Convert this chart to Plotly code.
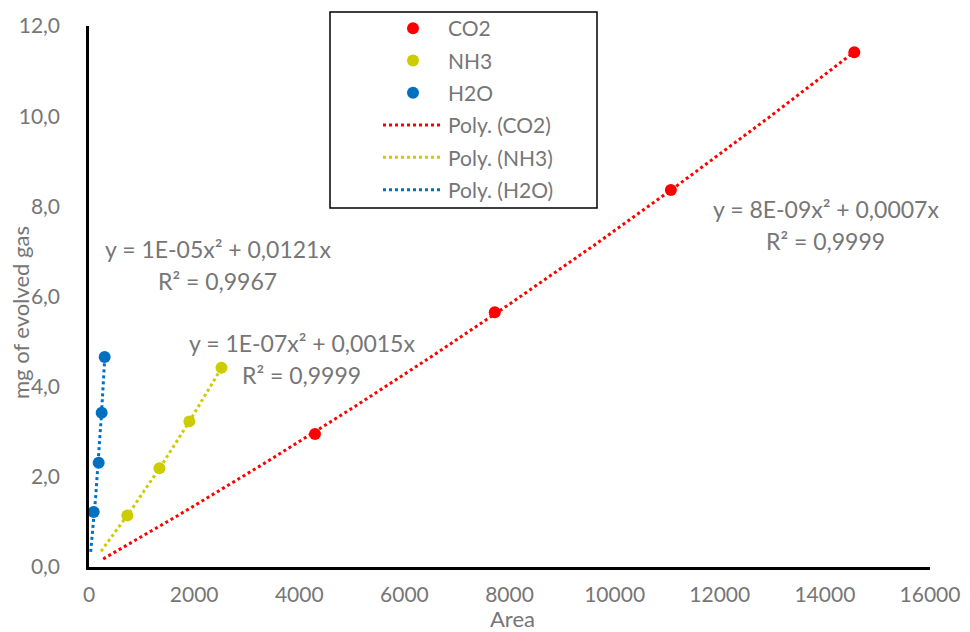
import numpy as np
import plotly.graph_objects as go

# ---- data ----
co2_area = [4300, 7720, 11070, 14560]
co2_mg = [2.95, 5.65, 8.36, 11.42]
nh3_area = [730, 1340, 1910, 2520]
nh3_mg = [1.14, 2.19, 3.23, 4.42]
h2o_area = [89, 184, 241, 298]
h2o_mg = [1.22, 2.31, 3.42, 4.66]

x_ticks = [0, 2000, 4000, 6000, 8000, 10000, 12000, 14000, 16000]
x_ticktext = ["0", "2000", "4000", "6000", "8000", "10000", "12000", "14000", "16000"]
y_ticks = [0, 2, 4, 6, 8, 10, 12]
y_ticktext = ["0,0", "2,0", "4,0", "6,0", "8,0", "10,0", "12,0"]

# trendline start (backward forecast) per series
trend_start = {"CO2": 270, "NH3": 230, "H2O": 32}

eq_text = {
    "CO2": ("y = 8E-09x² + 0,0007x", "R² = 0,9999"),
    "NH3": ("y = 1E-07x² + 0,0015x", "R² = 0,9999"),
    "H2O": ("y = 1E-05x² + 0,0121x", "R² = 0,9967"),
}

colors = {"CO2": "#FF0000", "NH3": "#CCCC00", "H2O": "#0070C0"}
FONT = "Lato, 'Open Sans', sans-serif"
GRAY = "#767676"

series = {"CO2": (co2_area, co2_mg), "NH3": (nh3_area, nh3_mg), "H2O": (h2o_area, h2o_mg)}

fig = go.Figure()
for name, (xs, ys) in series.items():
    fig.add_trace(go.Scatter(x=xs, y=ys, mode="markers", name=name,
                             marker=dict(color=colors[name], size=12),
                             legendgroup=name + "m"))


def fit_origin(xs, ys):
    x = np.asarray(xs, float)
    y = np.asarray(ys, float)
    A = np.vstack([x ** 2, x]).T
    coef, *_ = np.linalg.lstsq(A, y, rcond=None)
    return coef


for name, (xs, ys) in series.items():
    a, b = fit_origin(xs, ys)
    xt = np.linspace(trend_start[name], max(xs), 200)
    yt = a * xt ** 2 + b * xt
    fig.add_trace(go.Scatter(x=xt, y=yt, mode="lines", name=f"Poly. ({name})",
                             line=dict(color=colors[name], width=3, dash="3px,3px"),
                             legendgroup=name + "t"))

# equation annotations (centre x, line1 y, line2 y in data units)
eq_pos = {"CO2": (14017, 7.95, 7.24), "NH3": (4047, 4.96, 4.25), "H2O": (2450, 7.06, 6.35)}
for name, (cx, y1, y2) in eq_pos.items():
    l1, l2 = eq_text[name]
    for txt, yy in ((l1, y1), (l2, y2)):
        fig.add_annotation(x=cx, y=yy, xref="x", yref="y", text=txt, showarrow=False,
                           xanchor="center", yanchor="middle",
                           font=dict(family=FONT, size=23, color=GRAY))

# axis titles
fig.add_annotation(x=(512 - 89) / 841, y=(567 - 618) / 541, xref="paper", yref="paper",
                   text="Area", showarrow=False, xanchor="center", yanchor="middle",
                   font=dict(family=FONT, size=22, color=GRAY))
fig.add_annotation(x=(20 - 89) / 841, y=(567 - 313) / 541, xref="paper", yref="paper",
                   text="mg of evolved gas", showarrow=False, textangle=-90,
                   xanchor="center", yanchor="middle",
                   font=dict(family=FONT, size=22, color=GRAY))

# legend frame
fig.add_shape(type="rect", xref="paper", yref="paper",
              x0=(330 - 89) / 841, x1=(597 - 89) / 841,
              y0=(567 - 208) / 541, y1=(567 - 12) / 541,
              line=dict(color="black", width=1.5), fillcolor="white", layer="below")

fig.update_layout(
    width=970, height=632,
    margin=dict(l=81, r=48, t=18, b=73, autoexpand=False),
    plot_bgcolor="white", paper_bgcolor="white",
    font=dict(family=FONT, color=GRAY, size=21),
    showlegend=True,
    legend=dict(x=370 / 970, y=1.0, xref="container", yref="container",
                xanchor="left", yanchor="top",
                borderwidth=0, bgcolor="rgba(0,0,0,0)",
                font=dict(family=FONT, size=21, color=GRAY),
                tracegroupgap=2, itemwidth=60),
    xaxis=dict(range=[0, 16000], tickvals=x_ticks, ticktext=x_ticktext,
               showgrid=False, zeroline=False, showline=True, linecolor="black", linewidth=2.5,
               ticks="", automargin=False, ticklabelstandoff=7,
               tickfont=dict(family=FONT, size=21, color=GRAY)),
    yaxis=dict(range=[0, 12], tickvals=y_ticks, ticktext=y_ticktext,
               showgrid=False, zeroline=False, showline=True, linecolor="black", linewidth=2.5,
               ticks="", automargin=False, ticklabelstandoff=22,
               tickfont=dict(family=FONT, size=21, color=GRAY)),
)

fig.write_html("out.html")
